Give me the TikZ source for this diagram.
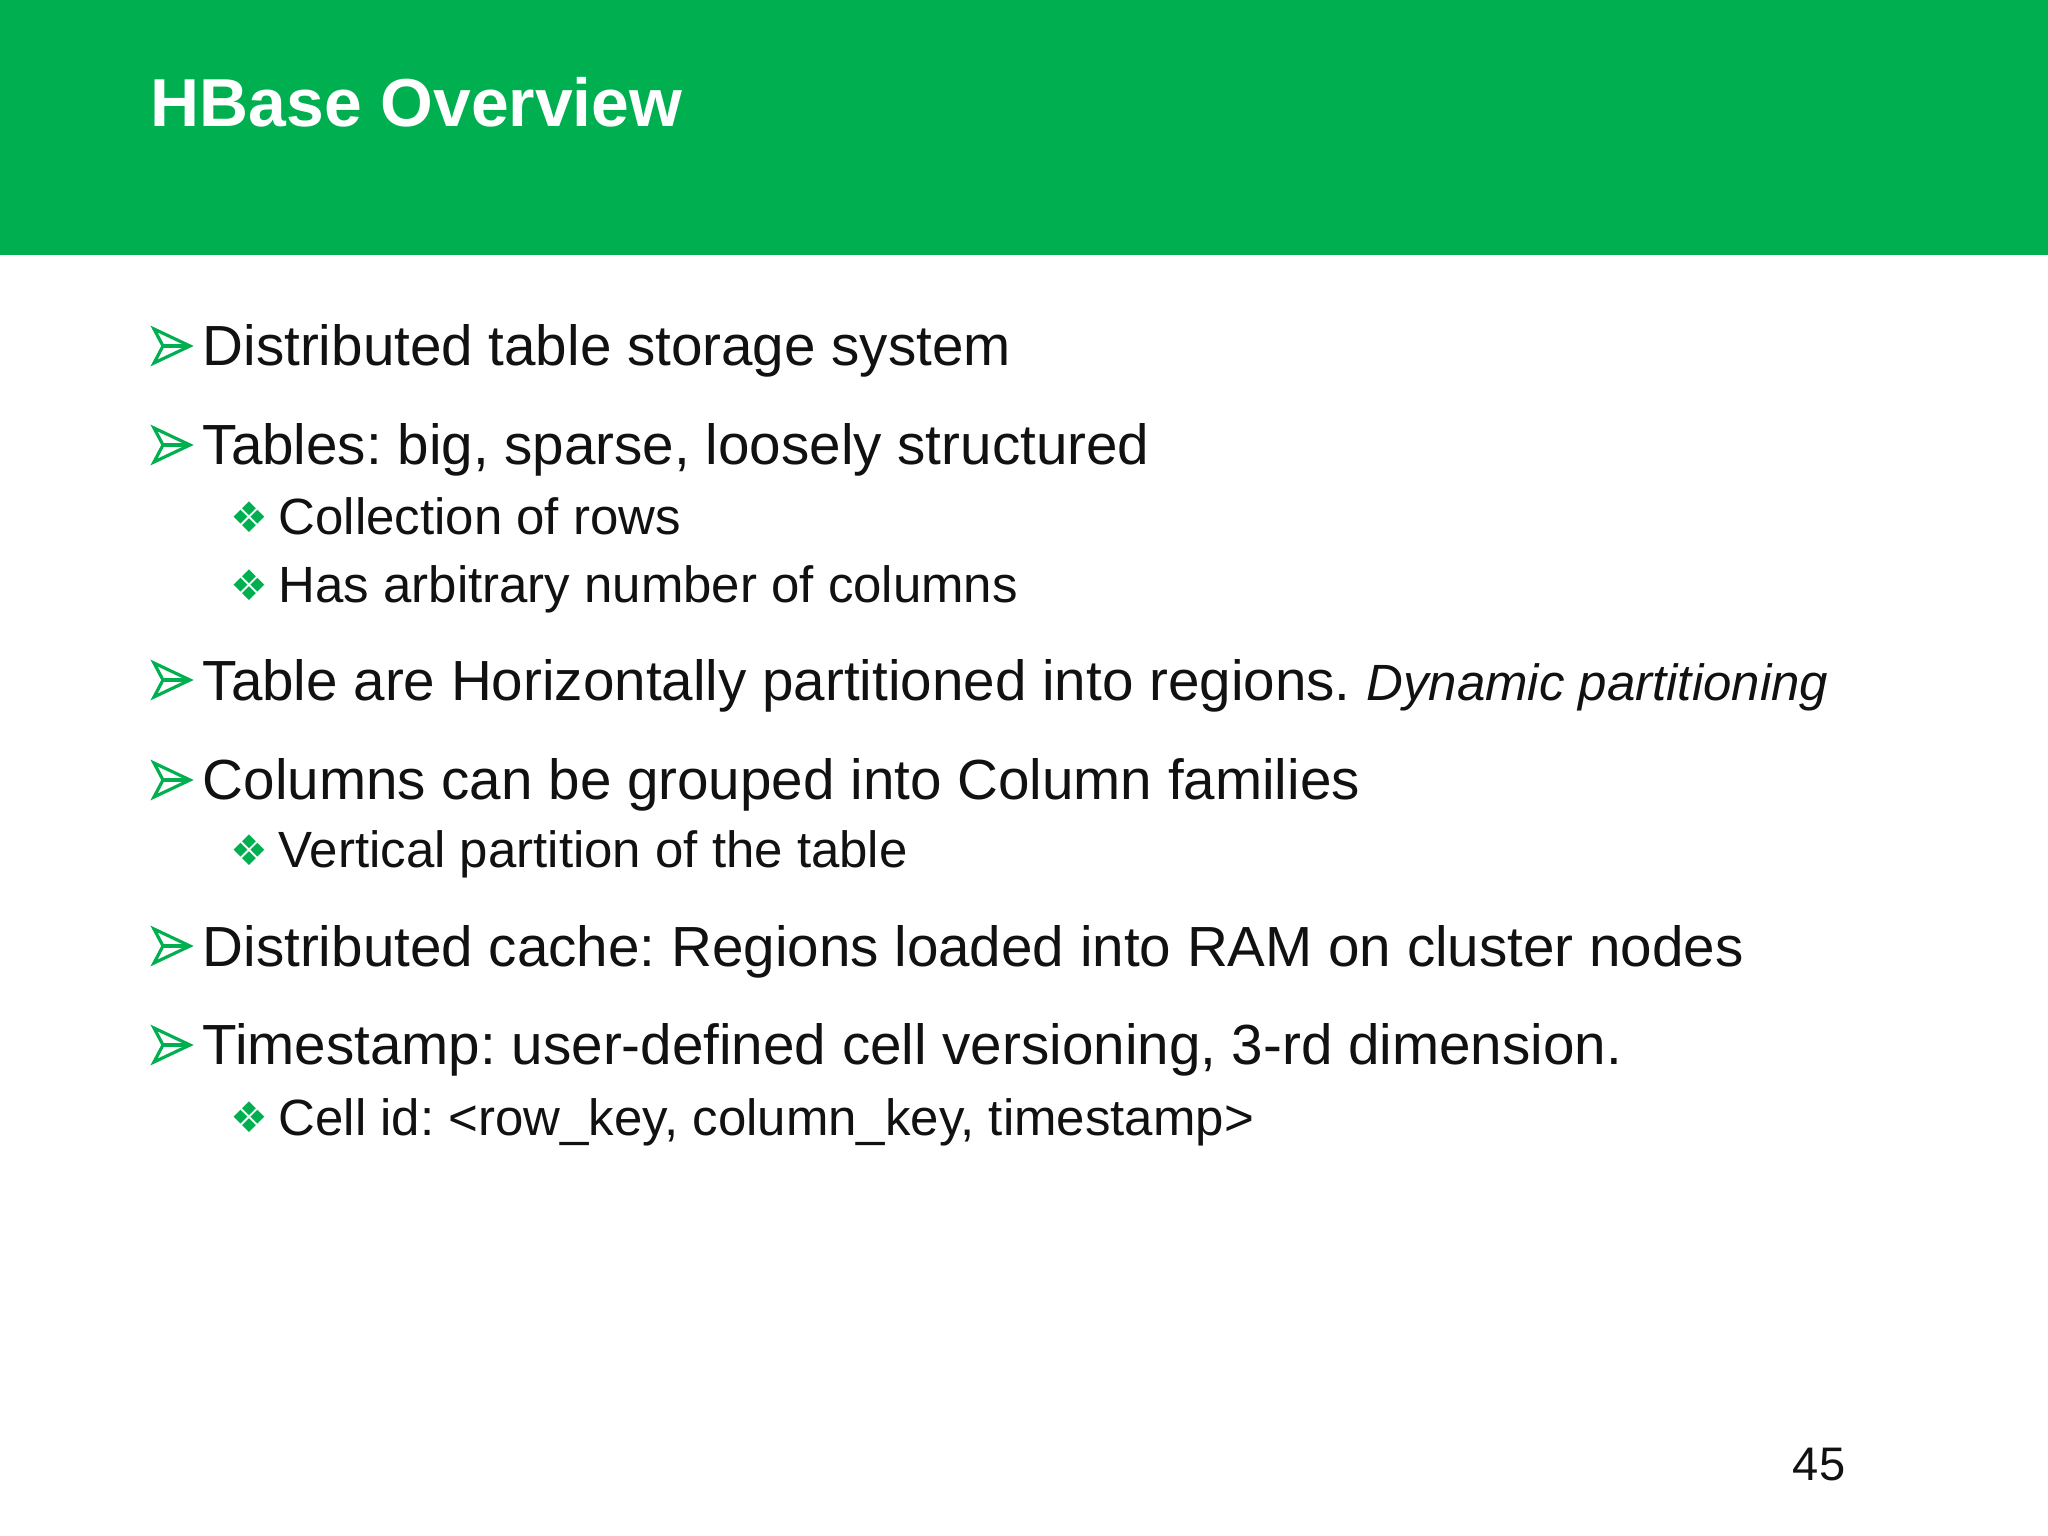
\documentclass[tikz,border=0pt]{standalone}
\usepackage{fontspec}
\setmainfont{Liberation Sans}
\newfontfamily\djv{DejaVu Sans}
\definecolor{hgreen}{HTML}{00B050}
\definecolor{btxt}{HTML}{111111}
\frenchspacing
\begin{document}
\begin{tikzpicture}[x=1cm,y=1cm,
  main/.style={anchor=base west,inner sep=0pt,font=\fontsize{16.1}{19}\selectfont,text=btxt},
  sub/.style={anchor=base west,inner sep=0pt,font=\fontsize{14.5}{17}\selectfont,text=btxt},
  arrowbul/.pic={\draw[hgreen,line width=0.9pt,line join=miter] (0.36,0) -- (0,0.17) -- (0.09,0) -- (0,-0.17) -- cycle; \draw[hgreen,line width=0.9pt] (0.09,0) -- (0.36,0);},
  dbul/.style={anchor=center,inner sep=0pt,text=hgreen,font=\djv\fontsize{12}{14}\selectfont}]
\useasboundingbox (0,0) rectangle (20.48,-15.36);
\fill[white] (0,0) rectangle (20.48,-15.36);
\fill[hgreen] (0,0) rectangle (20.48,-2.55);
\node[anchor=base west,inner sep=0pt,text=white,font=\bfseries\fontsize{19.3}{23}\selectfont] (title) at (1.50,-1.27) {HBase Overview};
% main bullets
\foreach \y/\t [count=\i] in {3.46/Distributed table storage system,
 4.45/{Tables: big, sparse, loosely structured},
 6.80/{Table are Horizontally partitioned into regions. \textit{\fontsize{14.5}{17}\selectfont Dynamic partitioning}},
 7.80/Columns can be grouped into Column families,
 9.46/Distributed cache: Regions loaded into RAM on cluster nodes,
 10.45/{Timestamp: user-defined cell versioning, 3-rd dimension.}}{
  \pic at (1.54,-\y) {arrowbul};
  \node[main] (m\i) at (2.02,-\y-0.20) {\t};
}
\foreach \y/\t [count=\i] in {5.17/Collection of rows,
 5.85/Has arbitrary number of columns,
 8.50/Vertical partition of the table,
 11.17/{Cell id: <row\_key, column\_key, timestamp>}}{
  \node[dbul] (d\i) at (2.49,-\y) {❖};
  \node[sub] (s\i) at (2.78,-\y-0.18) {\t};
}
\node[anchor=base east,inner sep=0pt,font=\fontsize{13.4}{16}\selectfont,text=btxt] (pg) at (18.46,-14.80) {45};
\end{tikzpicture}
\end{document}
